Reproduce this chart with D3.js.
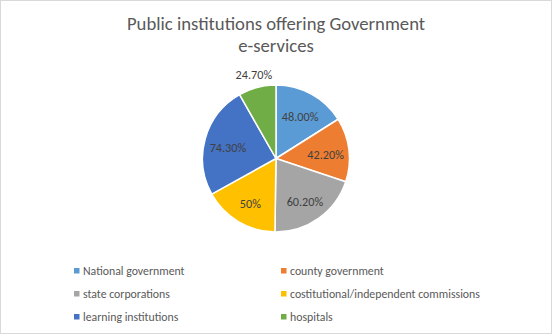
<!DOCTYPE html>
<html>
<head>
<meta charset="utf-8">
<script src="https://cdn.jsdelivr.net/npm/d3@7"></script>
<style>
  html, body { margin: 0; padding: 0; background: #fff; }
  svg { display: block; font-family: Calibri, Carlito, Lato, sans-serif; }
</style>
</head>
<body>
<svg id="chart" width="552" height="334"></svg>
<script>
// Share of public institutions offering government e-services
const categories = [
  "National government",
  "county government",
  "state corporations",
  "costitutional/independent commissions",
  "learning institutions",
  "hospitals"
];
const values = [48.0, 42.2, 60.2, 50, 74.3, 24.7];
const valueLabels = ["48.00%", "42.20%", "60.20%", "50%", "74.30%", "24.70%"];
const colors = ["#5B9BD5", "#ED7D31", "#A5A5A5", "#FFC000", "#4472C4", "#70AD47"];
const titleLines = ["Public institutions offering Government", "e-services"];

const W = 552, H = 334;
const svg = d3.select("#chart");

// chart frame
svg.append("rect")
  .attr("x", 0.5).attr("y", 0.5)
  .attr("width", W - 1).attr("height", H - 1)
  .attr("fill", "#fff").attr("stroke", "#d9d9d9").attr("stroke-width", 1);

// title
svg.append("g").selectAll("text")
  .data(titleLines)
  .join("text")
  .attr("x", 276)
  .attr("y", (d, i) => 30 + i * 22)
  .attr("text-anchor", "middle")
  .attr("font-size", 18.7)
  .attr("fill", "#595959")
  .text(d => d);

// pie
const cx = 276, cy = 158.5, R = 73.5;
const color = d3.scaleOrdinal().domain(categories).range(colors);
const pie = d3.pie().sort(null).value(d => d.value);
const arcs = pie(categories.map((c, i) => ({ name: c, value: values[i], label: valueLabels[i] })));
const arc = d3.arc().innerRadius(0).outerRadius(R);

const g = svg.append("g").attr("transform", `translate(${cx},${cy})`);
g.selectAll("path")
  .data(arcs)
  .join("path")
  .attr("d", arc)
  .attr("fill", d => color(d.data.name))
  .attr("stroke", "#fff")
  .attr("stroke-width", 1.5)
  .attr("stroke-linejoin", "round");

// data labels: inside the slice when it fits, otherwise just outside
const inR = R * 0.68;
const labelArc = d3.arc().innerRadius(inR).outerRadius(inR);
const outArc = d3.arc().innerRadius(R + 13).outerRadius(R + 13);
const labels = g.selectAll("text.val")
  .data(arcs)
  .join("text")
  .attr("class", "val")
  .attr("text-anchor", "middle")
  .attr("dominant-baseline", "central")
  .attr("font-size", 12.2)
  .attr("fill", "#404040")
  .text(d => d.data.label);
labels.each(function(d) {
  const w = this.getComputedTextLength();
  const span = (d.endAngle - d.startAngle) * inR;
  const inside = span >= w;
  const p = inside ? labelArc.centroid(d) : outArc.centroid(d);
  d3.select(this).attr("x", p[0]).attr("y", p[1] + (inside ? 2 : 0));
});

// legend, two columns
const colX = [74, 281], rowY = [271, 294, 317];
const leg = svg.append("g").selectAll("g")
  .data(categories)
  .join("g")
  .attr("transform", (d, i) => `translate(${colX[i % 2]},${rowY[Math.floor(i / 2)]})`);
leg.append("rect")
  .attr("x", 0).attr("y", -3)
  .attr("width", 5.5).attr("height", 5.5)
  .attr("fill", d => color(d));
leg.append("text")
  .attr("x", 9).attr("y", 0)
  .attr("dominant-baseline", "central")
  .attr("font-size", 11.8)
  .attr("fill", "#595959")
  .text(d => d);
</script>
</body>
</html>
